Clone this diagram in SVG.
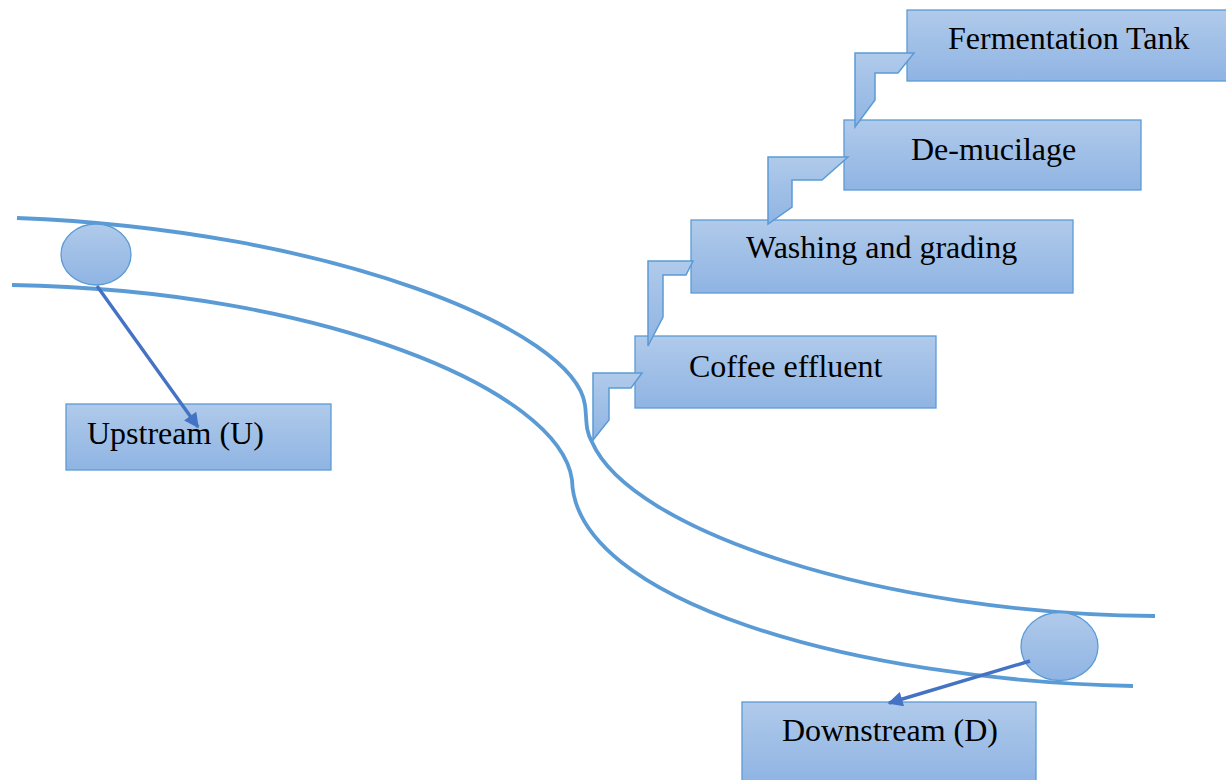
<svg xmlns="http://www.w3.org/2000/svg" width="1226" height="780" viewBox="0 0 1226 780">
<defs>
<linearGradient id="g" x1="0" y1="0" x2="0" y2="1">
<stop offset="0" stop-color="#B0CAEA"/>
<stop offset="1" stop-color="#8FB4E3"/>
</linearGradient>
<marker id="ah" viewBox="0 0 10 10" refX="9" refY="5" markerWidth="5" markerHeight="4.4" orient="auto" markerUnits="strokeWidth">
<path d="M0,0 L10,5 L0,10 z" fill="#4472C4"/>
</marker>
<style>
.box{fill:url(#g);stroke:#5B9BD5;stroke-width:1.3}
.bent{fill:url(#g);stroke:#5B9BD5;stroke-width:1.5;stroke-linejoin:miter}
.river{fill:none;stroke:#5B9BD5;stroke-width:3.8}
.lbl{font-family:"Liberation Serif","Times New Roman",serif;font-size:32px;fill:#000}
.arr{stroke:#4472C4;stroke-width:3.4;fill:none}
</style>
</defs>
<rect width="1226" height="780" fill="#fff"/>
<g id="river">
<path class="river" d="M17,218 C330,230 575,330 585,405 C587,420 585,430 592,442 C630,530 880,614 1155,616"/>
<path class="river" d="M12,285 C320,290 560,390 572,480 C575,600 850,680 1133,686"/>
</g>
<g id="node-fermentation-tank">
<rect class="box" x="907" y="10" width="322" height="71"/>
<text class="lbl" x="948" y="49">Fermentation Tank</text>
</g>
<g id="node-de-mucilage">
<rect class="box" x="844" y="120" width="297" height="70"/>
<text class="lbl" x="911" y="160">De-mucilage</text>
</g>
<g id="node-washing">
<rect class="box" x="691" y="220" width="382" height="73"/>
<text class="lbl" x="746" y="258">Washing and grading</text>
</g>
<g id="node-coffee-effluent">
<rect class="box" x="635" y="336" width="301" height="72"/>
<text class="lbl" x="689" y="377">Coffee effluent</text>
</g>
<g id="node-upstream">
<rect class="box" x="66" y="404" width="265" height="66"/>
<text class="lbl" x="87" y="444">Upstream (U)</text>
</g>
<g id="node-downstream">
<rect class="box" x="742" y="702" width="294" height="80"/>
<text class="lbl" x="782" y="741">Downstream (D)</text>
</g>
<g id="node-point-u">
<ellipse class="box" cx="96" cy="254.5" rx="35" ry="30.5"/>
</g>
<g id="node-point-d">
<ellipse class="box" cx="1059.5" cy="646.5" rx="38.5" ry="34"/>
</g>
<g id="connectors">
<polygon class="bent" points="593,440 593,373 642,373 631,388 609,388 609,420"/>
<polygon class="bent" points="648,346 648,261 693,261 686,275 663,275 663,317"/>
<polygon class="bent" points="768,224 768,157 848,157 822,180 792,180 792,207"/>
<polygon class="bent" points="855,127 855,53 914,53 898,73 875,73 875,100"/>
<line class="arr" x1="97" y1="286" x2="198" y2="427" marker-end="url(#ah)"/>
<line class="arr" x1="1030" y1="661" x2="889" y2="703" marker-end="url(#ah)"/>
</g>
</svg>
